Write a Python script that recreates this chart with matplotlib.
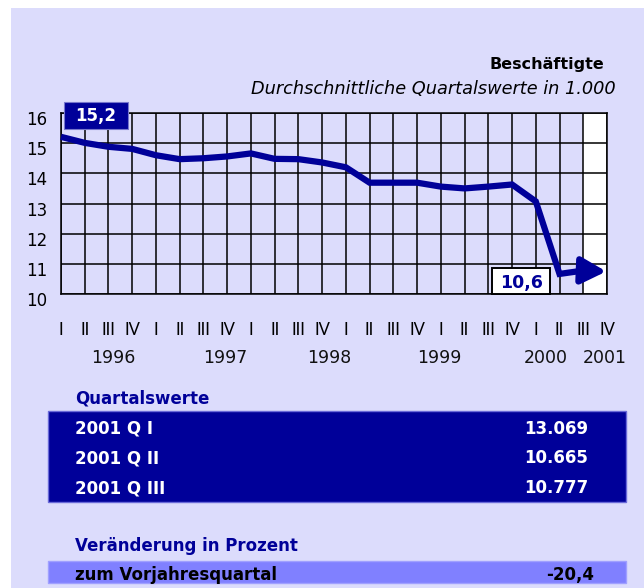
import matplotlib
matplotlib.use('Agg')
import matplotlib.pyplot as plt
import matplotlib.transforms as mtransforms
from matplotlib.patches import Rectangle

plt.rcParams['font.family'] = ['DejaVu Sans']

# Data: quarterly averages (in 1.000), 1996 Q I .. 2001 Q III
values = [15.21, 15.01, 14.88, 14.81, 14.60, 14.47, 14.50, 14.56,
          14.66, 14.48, 14.47, 14.36, 14.20, 13.69, 13.69, 13.69,
          13.56, 13.50, 13.56, 13.63, 13.069, 10.665, 10.777]
quarter_labels = ['I', 'II', 'III', 'IV'] * 6
years = ['1996', '1997', '1998', '1999', '2000', '2001']
year_pos = [2.2, 6.9, 11.3, 15.95, 20.4, 22.9]
yticks = [10, 11, 12, 13, 14, 15, 16]
start_label = '15,2'
min_label = '10,6'

table_title = 'Quartalswerte'
table_rows = ['2001 Q I', '2001 Q II', '2001 Q III']
table_vals = ['13.069', '10.665', '10.777']
change_title = 'Veränderung in Prozent'
change_row = 'zum Vorjahresquartal'
change_val = '-20,4'

W, H = 644, 588
BG = '#dcdcfc'
NAVY = '#000099'


def px(x, y):
    return x / W, 1 - y / H


fig = plt.figure(figsize=(W / 100, H / 100), dpi=100)
fig.patch.set_facecolor('white')
fig.patches.append(Rectangle(px(11, H), (W - 11) / W, (H - 8) / H,
                             transform=fig.transFigure, facecolor=BG,
                             edgecolor='none', zorder=-10))

# chart area
ax = fig.add_axes([61 / W, 1 - 294 / H, 546 / W, 181 / H])
ax.set_facecolor(BG)
n = len(quarter_labels) - 1
ax.set_xlim(0, n)
ax.set_ylim(10, 16)
ax.axvspan(n - 1, n, color='white', zorder=0)
for i in range(n + 1):
    ax.axvline(i, color='black', lw=1.1, zorder=1)
for v in yticks:
    ax.axhline(v, color='black', lw=1.1, zorder=1)
for s in ax.spines.values():
    s.set_color('black')
    s.set_linewidth(1.1)

x = list(range(len(values)))
ax.plot(x, values, color=NAVY, lw=4.5, solid_joinstyle='miter',
        solid_capstyle='butt', zorder=3, clip_on=False)
ax.annotate('', xy=(x[-1] + 0.97, values[-1] - 0.03), xytext=(x[-1], values[-1]),
            arrowprops=dict(arrowstyle='-|>,head_length=0.75,head_width=0.4',
                            color=NAVY, lw=4.5, shrinkA=0, shrinkB=0,
                            mutation_scale=20),
            zorder=4, annotation_clip=False)

# value boxes
ax.add_patch(Rectangle((0.13, 15.46), 2.69, 0.89, facecolor=NAVY,
                       edgecolor='#7777cc', lw=0.8, zorder=5, clip_on=False))
ax.text(1.47, 15.9, start_label, color='white', fontsize=12, fontweight='bold',
        ha='center', va='center', zorder=6)
ax.add_patch(Rectangle((18.15, 10.0), 2.45, 0.86, facecolor='white',
                       edgecolor='black', lw=1.4, zorder=5, clip_on=False))
ax.text(19.38, 10.38, min_label, color=NAVY, fontsize=12.5, fontweight='bold',
        ha='center', va='center', zorder=6)

# ticks
ax.set_yticks(yticks)
ax.set_yticklabels([str(v) for v in yticks], fontsize=12)
ax.set_xticks(range(len(quarter_labels)))
ax.set_xticklabels(quarter_labels, fontsize=12, family=['Lato', 'DejaVu Sans'])
ax.tick_params(length=0)
ax.tick_params(axis='y', pad=10)
ax.tick_params(axis='x', pad=20.5)
off = mtransforms.ScaledTranslation(0, -5 / 100, fig.dpi_scale_trans)
for lab in ax.get_yticklabels():
    lab.set_transform(lab.get_transform() + off)

trans = mtransforms.blended_transform_factory(ax.transData, ax.transAxes)
for yr, p in zip(years, year_pos):
    ax.text(p, -0.352, yr, transform=trans, fontsize=12.5, ha='center',
            va='center', color='#111111')

# titles
fig.text(*px(604, 65), 'Beschäftigte', fontsize=11.5, fontweight='bold',
         ha='right', va='center')
fig.text(*px(616, 89), 'Durchschnittliche Quartalswerte in 1.000',
         fontsize=12.8, style='italic', ha='right', va='center')

# quarterly values table
fig.text(*px(75, 399), table_title, fontsize=12, color=NAVY,
         fontweight='bold', ha='left', va='center')
fig.patches.append(Rectangle(px(48, 502), 578 / W, 91 / H,
                             transform=fig.transFigure, facecolor=NAVY,
                             edgecolor='#6a6ad8', lw=1))
row_y = [429, 458, 488]
for lab, val, y in zip(table_rows, table_vals, row_y):
    fig.text(*px(75, y), lab, fontsize=12, color='white',
             fontweight='bold', ha='left', va='center')
    fig.text(*px(588, y), val, fontsize=12, color='white',
             fontweight='bold', ha='right', va='center')

# change table
fig.text(*px(75, 546), change_title, fontsize=12, color=NAVY,
         fontweight='bold', ha='left', va='center')
fig.patches.append(Rectangle(px(48, 583), 578 / W, 22 / H,
                             transform=fig.transFigure, facecolor='#8080ff',
                             edgecolor='#a0a0ff', lw=1))
fig.text(*px(75, 575), change_row, fontsize=12, color='black',
         fontweight='bold', ha='left', va='center')
fig.text(*px(594, 575), change_val, fontsize=12, color='black',
         fontweight='bold', ha='right', va='center')

fig.savefig('out.png', dpi=100, facecolor=fig.get_facecolor())
